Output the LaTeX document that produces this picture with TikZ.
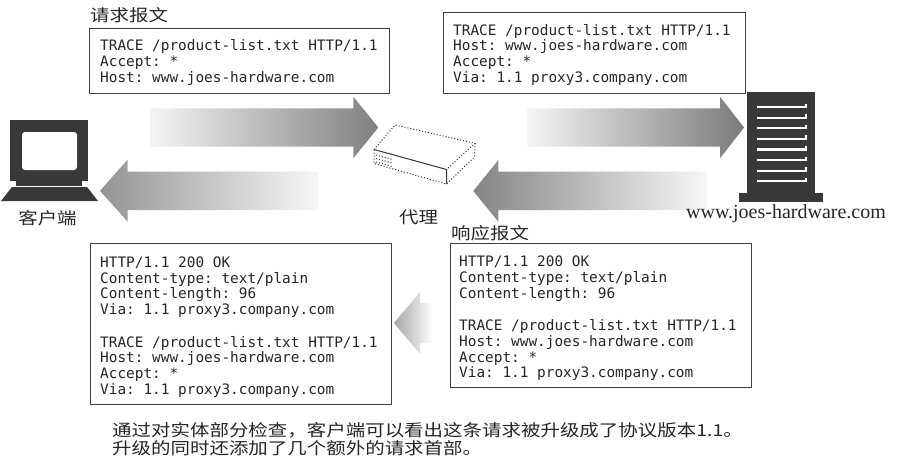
\documentclass[tikz,border=0pt]{standalone}
\usepackage{fontspec}
\setmainfont{Liberation Serif}
\newfontfamily\cjk[FakeStretch=1.18]{Noto Sans CJK SC}
\newfontfamily\monofnt{DejaVu Sans Mono}
\newcommand\mspc{\hspace*{0.602em}}
\tikzset{
  msgbox/.style={draw=black!75, line width=1.1pt, inner sep=0pt, anchor=north west},
  msgtext/.style={inner sep=0pt, anchor=base west, align=left, text width=295pt,
                  text=black!85, font=\monofnt\fontsize{14.4}{15.7}\selectfont},
  cjklabel/.style={inner sep=0pt, text=black!85, font=\cjk\fontsize{16.5}{18}\selectfont},
  serverlbl/.style={inner sep=0pt, text=black!85, font=\fontsize{20}{22}\selectfont},
  devfill/.style={fill=black!78},
  boxedge/.style={draw=black!80, line width=1pt, dotted},
  boxsolid/.style={draw=black!80, line width=1pt},
}
\begin{document}
\begin{tikzpicture}[x=1pt,y=-1pt]
\useasboundingbox (0,0) rectangle (897,471);
\fill[white] (0,0) rectangle (897,471);

% ---------- shaded arrows ----------
\shade[left color=black!4, right color=black!50]
  (150,108.3) -- (353.3,108.3) -- (353.3,96.7) -- (378.3,127.5)
  -- (353.3,158.3) -- (353.3,146.7) -- (150,146.7) -- cycle;
\shade[left color=black!42, right color=black!3]
  (100,190.8) -- (127.7,159.5) -- (127.7,171.7) -- (318,171.7)
  -- (318,210) -- (127.7,210) -- (127.7,221.7) -- cycle;
\shade[left color=black!4, right color=black!52]
  (527,108.3) -- (720,108.3) -- (720,96.7) -- (744,127.5)
  -- (720,158.3) -- (720,146.7) -- (527,146.7) -- cycle;
\shade[left color=black!48, right color=black!3]
  (473.3,191) -- (498.3,160) -- (498.3,171.7) -- (707,171.7)
  -- (707,210) -- (498.3,210) -- (498.3,221.7) -- cycle;
\shade[left color=black!35, right color=white]
  (394,323) -- (420,292) -- (420,303) -- (433,303)
  -- (433,343) -- (420,343) -- (420,354) -- cycle;

% ---------- client computer ----------
\fill[devfill] (10,120) rectangle (88,181);
\fill[white, rounded corners=3pt] (22,132) rectangle (77,170);
\fill[devfill] (16,181) rectangle (82,186);
\fill[devfill] (12,187) -- (87,187) -- (98,201) -- (1,201) -- cycle;

% ---------- proxy box ----------
\coordinate (pA) at (374,149.5);
\coordinate (pB) at (395,125);
\coordinate (pC) at (475,143.3);
\coordinate (pD) at (446.5,169.5);
\coordinate (pAd) at (374,163.5);
\coordinate (pDd) at (446.5,184);
\coordinate (pCd) at (474.5,157);
\draw[boxedge] (pA) -- (pB) -- (pC) -- (pD);
\draw[boxedge] (pA) -- (pAd) -- (pDd);
\draw[boxedge] (pC) -- (pCd) -- (pDd);
\draw[boxsolid] (pA) -- (pD) -- (pDd);
\draw[boxedge] (376,155) -- (392,159.5);
\draw[boxedge] (376,158.5) -- (392,163);
\draw[boxedge] (376,162) -- (392,166.5);

% ---------- server ----------
\fill[devfill] (747,92) rectangle (815,193);
\fill[devfill] (739,193) rectangle (823,202);
\foreach \k in {0,...,7}{
  \draw[white, line width=2.2pt] (757,{107+\k*10.6}) -- (806,{107+\k*10.6}) -- (806,{103.5+\k*10.6});
}

% ---------- message boxes ----------
\node[msgbox, minimum width=300pt, minimum height=65pt] (reqbox) at (89,28) {};
\node[msgtext] (reqtxt) at (100,50.7) {TRACE\mspc/product-list.txt\mspc HTTP/1.1\\Accept:\mspc*\\Host:\mspc www.joes-hardware.com};

\node[msgbox, minimum width=302pt, minimum height=81pt] (fwdbox) at (443,12) {};
\node[msgtext] (fwdtxt) at (453,35) {TRACE\mspc/product-list.txt\mspc HTTP/1.1\\Host:\mspc www.joes-hardware.com\\Accept:\mspc*\\Via:\mspc1.1\mspc proxy3.company.com};

\node[msgbox, minimum width=301pt, minimum height=144pt] (respbox) at (450,243) {};
\node[msgtext] (resptxt) at (459,266.7) {HTTP/1.1\mspc200\mspc OK\\Content-type:\mspc text/plain\\Content-length:\mspc96\\[17pt]TRACE\mspc/product-list.txt\mspc HTTP/1.1\\Host:\mspc www.joes-hardware.com\\Accept:\mspc*\\Via:\mspc1.1\mspc proxy3.company.com};

\node[msgbox, minimum width=301pt, minimum height=161pt] (cliresp) at (90,243) {};
\node[msgtext] (clitxt) at (100,267.3) {HTTP/1.1\mspc200\mspc OK\\Content-type:\mspc text/plain\\Content-length:\mspc96\\Via:\mspc1.1\mspc proxy3.company.com\\[17pt]TRACE\mspc/product-list.txt\mspc HTTP/1.1\\Host:\mspc www.joes-hardware.com\\Accept:\mspc*\\Via:\mspc1.1\mspc proxy3.company.com};

% ---------- labels ----------
\node[cjklabel, anchor=west] (reqlbl) at (90,15) {请求报文};
\node[cjklabel, anchor=west] (resplbl) at (451,233) {响应报文};
\node[cjklabel] (clientlbl) at (47.5,218) {客户端};
\node[cjklabel] (proxylbl) at (418.5,217) {代理};
\node[serverlbl] (srvlbl) at (786,214) {www.joes-hardware.com};

\node[cjklabel, anchor=west] (cap1) at (112,430) {通过对实体部分检查，客户端可以看出这条请求被升级成了协议版本1.1。};
\node[cjklabel, anchor=west] (cap2) at (112,448) {升级的同时还添加了几个额外的请求首部。};
\end{tikzpicture}
\end{document}
